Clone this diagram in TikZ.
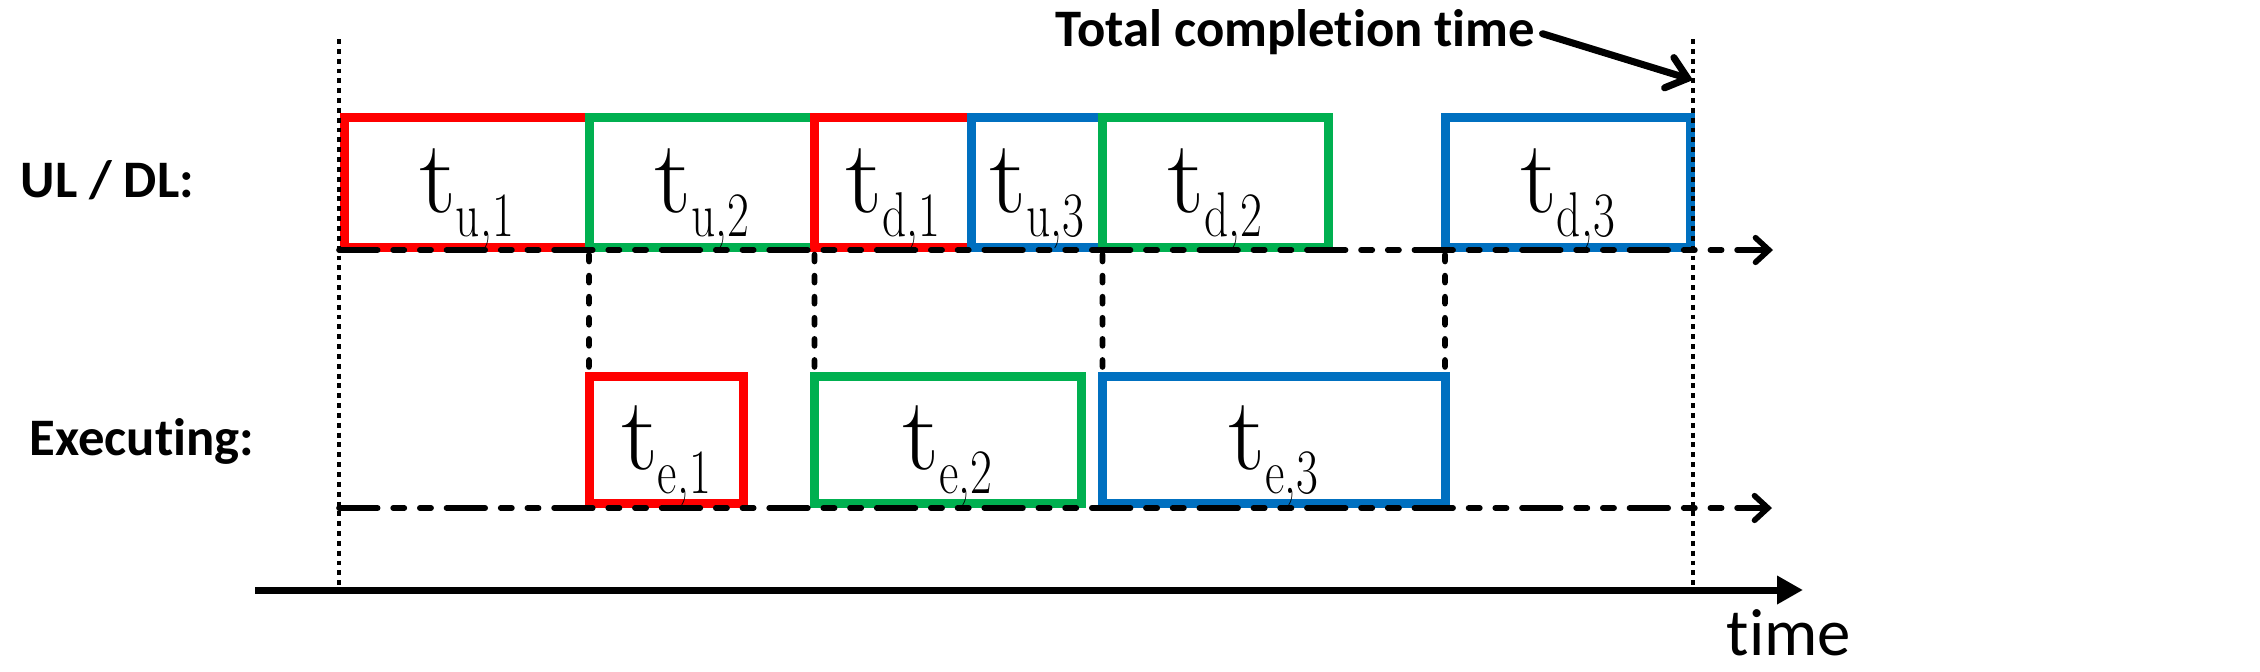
\documentclass[tikz,border=0pt]{standalone}
\usepackage{fontspec}
\usepackage{graphicx}
\newfontfamily\carlito[Ligatures=NoCommon]{Carlito}
\usetikzlibrary{arrows.meta}
\definecolor{cred}{HTML}{FF0000}
\definecolor{cgreen}{HTML}{00B050}
\definecolor{cblue}{HTML}{0070C0}
\newcommand{\tlab}[2]{{\fontsize{29.5}{30}\selectfont t}\raisebox{-6.8pt}{\fontsize{18}{19}\selectfont\scalebox{0.75}[1]{#1,#2}}}
\begin{document}
\begin{tikzpicture}[x=0.1mm,y=-0.1mm,
  box/.style={draw, line width=0.9mm, inner sep=0pt, outer sep=0pt, text height=6mm, text depth=0mm},
  lbl/.style={inner sep=0pt, anchor=base west, font=\carlito\bfseries\fontsize{15}{18}\selectfont},
  thindots/.style={line width=1.1pt, dash pattern=on 1.4pt off 1.4pt},
  link/.style={line width=1.6pt, line cap=round, dash pattern=on 2pt off 4pt, shorten <=0.75mm, shorten >=0.7mm},
  lane/.style={line width=1.6pt, line cap=round, dash pattern=on 11pt off 4.4pt on 3.2pt off 4.4pt on 3.2pt off 4.4pt, -{Straight Barb[length=3.8pt,width=7pt,line cap=round]}},
  axis/.style={line width=2pt, -{Triangle[length=7.4pt,width=7.7pt]}},
  callout/.style={line width=2pt, line cap=round, shorten <=0.7mm, -{Straight Barb[length=5.5pt,width=9pt,line cap=round]}}
]
\useasboundingbox (0,0) rectangle (2260,671);

% row labels
\node[lbl] (ul) at (20,197) {UL / DL:};
\node[lbl] (ex) at (29,455) {Executing:};
\node[lbl] (total) at (1055,46) {Total completion time};
\node[inner sep=0pt, anchor=base west, font=\carlito\fontsize{19}{22}\selectfont] (time) at (1726,655) {time};

% UL / DL row
\node[box, draw=cred,   minimum width=24.5mm,  minimum height=12.95mm] (tu1) at (466.5,182.25)  {\tlab{u}{1}};
\node[box, draw=cgreen, minimum width=22.55mm, minimum height=12.95mm] (tu2) at (701.75,182.25) {\tlab{u}{2}};
\node[box, draw=cred,   minimum width=15.65mm, minimum height=12.95mm] (td1) at (892.75,182.25) {\tlab{d}{1}};
\node[box, draw=cblue,  minimum width=13.15mm, minimum height=12.95mm] (tu3) at (1036.75,182.25) {\tlab{u}{3}};
\node[box, draw=cgreen, minimum width=22.55mm, minimum height=12.95mm] (td2) at (1215.25,182.25) {\tlab{d}{2}};
\node[box, draw=cblue,  minimum width=24.5mm,  minimum height=12.95mm] (td3) at (1567.5,182.25) {\tlab{d}{3}};

% Executing row
\node[box, draw=cred,   minimum width=15.4mm,  minimum height=12.65mm] (te1) at (666,439.75)    {\tlab{e}{1}};
\node[box, draw=cgreen, minimum width=26.65mm, minimum height=12.65mm] (te2) at (947.75,439.75) {\tlab{e}{2}};
\node[box, draw=cblue,  minimum width=34.25mm, minimum height=12.65mm] (te3) at (1273.75,439.75) {\tlab{e}{3}};

% links between rows
\draw[link] (tu1.south east) -- (te1.north west);
\draw[link] (td1.south west) -- (te2.north west);
\draw[link] (td2.south west) -- (te3.north west);
\draw[link] (td3.south west) -- (te3.north east);

% lane base lines
\coordinate (a1s) at (339,250);
\coordinate (a1e) at (1773,250);
\coordinate (a2s) at (339,508);
\coordinate (a2e) at (1772,508);
\draw[lane] (a1s) -- (a1e);
\draw[lane] (a2s) -- (a2e);

% outer reference lines
\coordinate (ltop) at (339,39);
\coordinate (lbot) at (339,588);
\coordinate (rtop) at (1693,39);
\coordinate (rbot) at (1693,590);
\draw[thindots] (ltop) -- (lbot);
\draw[thindots] (rtop) -- (rbot);

% time axis
\coordinate (t0) at (255,590);
\coordinate (t1) at (1803,590);
\draw[axis] (t0) -- (t1);

% completion arrow
\coordinate (ctip) at (1693,80);
\draw[callout] (total.east) -- (ctip);
\end{tikzpicture}
\end{document}
